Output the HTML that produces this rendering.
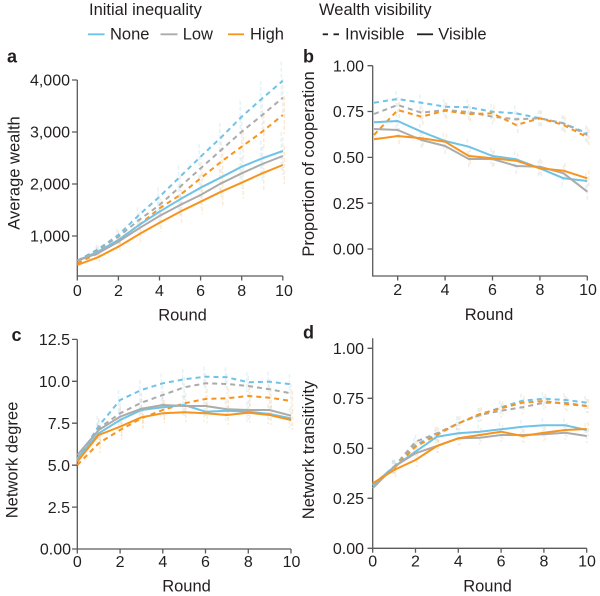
<!DOCTYPE html>
<html><head><meta charset="utf-8">
<style>
html,body{margin:0;padding:0;background:#fff;}
svg{display:block;}
text{font-family:"Liberation Sans",Arial,sans-serif;fill:#231f20;}
.t{font-size:16px;}
.l{font-size:16.5px;}
.p{font-size:18px;font-weight:bold;}
.ax{stroke:#5a5a5a;stroke-width:1.3;fill:none;}
.s{fill:none;stroke-width:2;stroke-linejoin:round;stroke-linecap:butt;}
.d{stroke-dasharray:5,4;}
.b{stroke:#6ec3e6;}
.g{stroke:#ababab;}
.o{stroke:#f7941d;}
</style></head>
<body>
<svg id="c" width="600" height="596" viewBox="0 0 600 596" xmlns="http://www.w3.org/2000/svg">
<!-- Legend -->
<text class="l" x="89" y="15">Initial inequality</text>
<text class="l" x="319" y="15">Wealth visibility</text>
<line x1="88" y1="34.3" x2="104.5" y2="34.3" stroke="#6ec3e6" stroke-width="1.8"/>
<text class="l" x="110" y="39.5">None</text>
<line x1="160.5" y1="34.3" x2="177.5" y2="34.3" stroke="#ababab" stroke-width="1.8"/>
<text class="l" x="182.7" y="39.5">Low</text>
<line x1="228" y1="34.3" x2="244" y2="34.3" stroke="#f7941d" stroke-width="1.8"/>
<text class="l" x="250" y="39.5">High</text>
<line x1="322.7" y1="34.3" x2="328" y2="34.3" stroke="#231f20" stroke-width="1.8"/>
<line x1="333.5" y1="34.3" x2="339" y2="34.3" stroke="#231f20" stroke-width="1.8"/>
<text class="l" x="345" y="39.5">Invisible</text>
<line x1="417" y1="34.3" x2="433" y2="34.3" stroke="#231f20" stroke-width="1.8"/>
<text class="l" x="438.3" y="39.5">Visible</text>

<!-- Panel labels -->
<text class="p" x="7" y="62.7">a</text>
<text class="p" x="303" y="62.7">b</text>
<text class="p" x="11.5" y="341">c</text>
<text class="p" x="303" y="338.5">d</text>

<!-- ===== Panel a ===== -->
<g id="pa">
<path class="ax" d="M77.3,80 V276 H282.8"/>
<path class="ax" d="M72,80H77.3M72,132H77.3M72,184H77.3M72,236H77.3"/>
<path class="ax" d="M77.3,276v4.5M118.4,276v4.5M159.5,276v4.5M200.6,276v4.5M241.7,276v4.5M282.8,276v4.5"/>
<g class="t" text-anchor="end">
<text x="70" y="85.7">4,000</text><text x="70" y="137.7">3,000</text><text x="70" y="189.7">2,000</text><text x="70" y="241.7">1,000</text>
</g>
<g class="t" text-anchor="middle">
<text x="77.3" y="296">0</text><text x="118.4" y="296">2</text><text x="159.5" y="296">4</text><text x="200.6" y="296">6</text><text x="241.7" y="296">8</text><text x="284" y="296">10</text>
</g>
<text class="l" x="182.5" y="320.7" text-anchor="middle">Round</text>
<text class="l" transform="translate(19.5,173) rotate(-90)" text-anchor="middle">Average wealth</text>
<polyline class="s d b eb" data-h="a" points="77.3,260.7 97.9,249.3 118.4,235 139,215 159.5,196.7 180.1,176.7 200.6,156.7 221.2,137.3 241.7,116.7 262.3,98.3 282.8,80.7"/>
<polyline class="s d g eb" data-h="a" points="77.3,260.7 97.9,250 118.4,236.7 139,220 159.5,205 180.1,186.7 200.6,168.3 221.2,150 241.7,131.7 262.3,115 282.8,97.7"/>
<polyline class="s d o eb" data-h="a" points="77.3,263.3 97.9,253.3 118.4,240 139,225 159.5,208.3 180.1,195 200.6,178.3 221.2,161.7 241.7,146.7 262.3,131.7 282.8,115"/>
<polyline class="s b eb" data-h="a" points="77.3,260.7 97.9,251.7 118.4,240 139,225 159.5,211.7 180.1,199.3 200.6,187.7 221.2,177.3 241.7,166.7 262.3,158.3 282.8,151"/>
<polyline class="s g eb" data-h="a" points="77.3,260.7 97.9,253.3 118.4,241.7 139,228.3 159.5,216 180.1,205 200.6,195 221.2,183.3 241.7,173.3 262.3,164 282.8,156"/>
<polyline class="s o eb" data-h="a" points="77.3,265 97.9,257.3 118.4,246.7 139,234.3 159.5,222.7 180.1,211.7 200.6,201.7 221.2,191.7 241.7,182.7 262.3,173.3 282.8,165"/>
</g>

<!-- ===== Panel b ===== -->
<g id="pb">
<path class="ax" d="M372.7,65.7 V276 H587.3"/>
<path class="ax" d="M367.5,65.7H372.7M367.5,111.5H372.7M367.5,157.4H372.7M367.5,203.2H372.7M367.5,249H372.7"/>
<path class="ax" d="M397.7,276v4.5M445.1,276v4.5M492.5,276v4.5M539.9,276v4.5M587.3,276v4.5"/>
<g class="t" text-anchor="end">
<text x="364" y="71.4">1.00</text><text x="364" y="117.2">0.75</text><text x="364" y="163.1">0.50</text><text x="364" y="208.9">0.25</text><text x="364" y="254.7">0.00</text>
</g>
<g class="t" text-anchor="middle">
<text x="397.7" y="295">2</text><text x="445.1" y="295">4</text><text x="492.5" y="295">6</text><text x="539.9" y="295">8</text><text x="588" y="295">10</text>
</g>
<text class="l" x="489" y="320" text-anchor="middle">Round</text>
<text class="l" transform="translate(314,164) rotate(-90)" text-anchor="middle">Proportion of cooperation</text>
<polyline class="s d b eb" data-h="b" points="374,102.7 397.7,99 421.4,102.7 445.1,106.7 468.8,107.3 492.5,111.7 516.2,113.3 539.9,118.3 563.6,123.3 587.3,133.3"/>
<polyline class="s d g eb" data-h="b" points="374,114 397.7,105 421.4,112.7 445.1,110 468.8,112 492.5,116.7 516.2,119.3 539.9,118.3 563.6,123.3 587.3,135"/>
<polyline class="s d o eb" data-h="b" points="374,135 397.7,110 421.4,116.7 445.1,110.7 468.8,114 492.5,113.3 516.2,125 539.9,118.3 563.6,125 587.3,137.3"/>
<polyline class="s b eb" data-h="b" points="374,122.3 397.7,121 421.4,131.7 445.1,141 468.8,146.7 492.5,156 516.2,159.3 539.9,168.3 563.6,178.3 587.3,181"/>
<polyline class="s g eb" data-h="b" points="374,129 397.7,130 421.4,140 445.1,146 468.8,159 492.5,159 516.2,166 539.9,166.7 563.6,173.3 587.3,191.7"/>
<polyline class="s o eb" data-h="b" points="374,139.3 397.7,136 421.4,138.3 445.1,141.7 468.8,156 492.5,158.3 516.2,160.7 539.9,168.3 563.6,170.7 587.3,178.3"/>
</g>

<!-- ===== Panel c ===== -->
<g id="pc">
<path class="ax" d="M77.3,339.4 V549 H291"/>
<path class="ax" d="M72,339.4H77.3M72,381.3H77.3M72,423.2H77.3M72,465.2H77.3M72,507.1H77.3M72,549H77.3"/>
<path class="ax" d="M77.3,549v4.5M120.1,549v4.5M162.8,549v4.5M205.5,549v4.5M248.3,549v4.5M291,549v4.5"/>
<g class="t" text-anchor="end">
<text x="70" y="345.1">12.5</text><text x="70" y="387">10.0</text><text x="70" y="428.9">7.5</text><text x="70" y="470.9">5.0</text><text x="70" y="512.8">2.5</text><text x="71" y="554.7">0.00</text>
</g>
<g class="t" text-anchor="middle">
<text x="77.3" y="567">0</text><text x="120.1" y="567">2</text><text x="162.8" y="567">4</text><text x="205.5" y="567">6</text><text x="248.3" y="567">8</text><text x="291.5" y="567">10</text>
</g>
<text class="l" x="186.5" y="591.7" text-anchor="middle">Round</text>
<text class="l" transform="translate(17.5,460) rotate(-90)" text-anchor="middle">Network degree</text>
<polyline class="s d b eb" data-h="c" points="77.3,460 98.7,426 120.1,400 141.4,390 162.8,383.3 184.2,379.3 205.5,376.7 226.9,377.3 248.3,382.3 269.6,381.7 291,384.3"/>
<polyline class="s d g eb" data-h="c" points="77.3,460 98.7,428.3 120.1,413.3 141.4,402.7 162.8,395 184.2,387.3 205.5,383.3 226.9,384 248.3,386 269.6,389.3 291,393.3"/>
<polyline class="s d o eb" data-h="c" points="77.3,465 98.7,443.3 120.1,430 141.4,418.3 162.8,410 184.2,403.3 205.5,399 226.9,398.3 248.3,396 269.6,397.7 291,401"/>
<polyline class="s b eb" data-h="c" points="77.3,458.3 98.7,433.3 120.1,420 141.4,410 162.8,407.3 184.2,405 205.5,411.7 226.9,410.7 248.3,411.7 269.6,414 291,418.3"/>
<polyline class="s g eb" data-h="c" points="77.3,455 98.7,430 120.1,416.7 141.4,408.7 162.8,405 184.2,406 205.5,406 226.9,409.3 248.3,410 269.6,410 291,415.7"/>
<polyline class="s o eb" data-h="c" points="77.3,461.7 98.7,435 120.1,426.7 141.4,417.3 162.8,413.3 184.2,412.3 205.5,413.3 226.9,415 248.3,412.7 269.6,415 291,420"/>
</g>

<!-- ===== Panel d ===== -->
<g id="pd">
<path class="ax" d="M372.7,338.3 V548.3 H586.7"/>
<path class="ax" d="M367.5,348.3H372.7M367.5,398.3H372.7M367.5,448.3H372.7M367.5,498.3H372.7M367.5,548.3H372.7"/>
<path class="ax" d="M372.7,548.3v4.5M415.5,548.3v4.5M458.3,548.3v4.5M501.1,548.3v4.5M543.9,548.3v4.5M586.7,548.3v4.5"/>
<g class="t" text-anchor="end">
<text x="364" y="354">1.00</text><text x="364" y="404">0.75</text><text x="364" y="454">0.50</text><text x="364" y="504">0.25</text><text x="364" y="554">0.00</text>
</g>
<g class="t" text-anchor="middle">
<text x="372.7" y="566.7">0</text><text x="415.5" y="566.7">2</text><text x="458.3" y="566.7">4</text><text x="501.1" y="566.7">6</text><text x="543.9" y="566.7">8</text><text x="587" y="566.7">10</text>
</g>
<text class="l" x="487.5" y="591.7" text-anchor="middle">Round</text>
<text class="l" transform="translate(314,450) rotate(-90)" text-anchor="middle">Network transitivity</text>
<polyline class="s d b eb" data-h="d" points="372.7,485 394.1,466.7 415.5,445 436.9,434 458.3,423.3 479.7,415 501.1,407.3 522.5,400.7 543.9,398.7 565.3,400 586.7,402.7"/>
<polyline class="s d g eb" data-h="d" points="372.7,485 394.1,466.7 415.5,441.7 436.9,433.3 458.3,423.3 479.7,415 501.1,410.7 522.5,407.3 543.9,402.7 565.3,402.7 586.7,406"/>
<polyline class="s d o eb" data-h="d" points="372.7,485 394.1,468.3 415.5,446.7 436.9,435 458.3,423.3 479.7,414 501.1,408.3 522.5,402.7 543.9,401 565.3,404 586.7,406"/>
<polyline class="s b eb" data-h="d" points="372.7,485 394.1,466.7 415.5,451.7 436.9,436.7 458.3,433.3 479.7,431.7 501.1,429.3 522.5,426.7 543.9,425.3 565.3,425.3 586.7,430"/>
<polyline class="s g eb" data-h="d" points="372.7,488.3 394.1,466.7 415.5,453.3 436.9,446 458.3,438.3 479.7,437.7 501.1,435 522.5,435 543.9,434.3 565.3,432.7 586.7,436"/>
<polyline class="s o eb" data-h="d" points="372.7,483.3 394.1,470 415.5,460 436.9,446 458.3,438.3 479.7,435 501.1,431.7 522.5,436 543.9,432.7 565.3,430 586.7,429"/>
</g>
</svg>
<script>
(function(){
  var NS="http://www.w3.org/2000/svg";
  var cols={b:"#6ec3e6",g:"#ababab",o:"#f7941d"};
  var lines=document.querySelectorAll("polyline.eb");
  for(var i=0;i<lines.length;i++){
    var pl=lines[i], cls=" "+pl.getAttribute("class")+" ";
    var c=cls.indexOf(" b ")>=0?"b":(cls.indexOf(" g ")>=0?"g":"o");
    var off=c==="b"?-1.5:(c==="g"?0:1.5);
    var h=pl.getAttribute("data-h");
    var pts=pl.getAttribute("points").trim().split(/\s+/);
    var g=document.createElementNS(NS,"g");
    for(var k=1;k<pts.length;k++){
      var xy=pts[k].split(","),x=+xy[0]+off,y=+xy[1];
      var len=h==="a"?(3+1.6*k):(h==="b"?8:(h==="c"?10:7));
      var ln=document.createElementNS(NS,"line");
      ln.setAttribute("x1",x);ln.setAttribute("x2",x);
      ln.setAttribute("y1",y-len);ln.setAttribute("y2",y+len);
      ln.setAttribute("stroke",cols[c]);ln.setAttribute("stroke-width","1.5");
      ln.setAttribute("stroke-opacity","0.2");
      ln.setAttribute("stroke-dasharray","4,2");
      g.appendChild(ln);
    }
    pl.parentNode.insertBefore(g,pl.parentNode.querySelector("polyline"));
  }
})();
</script>
</body></html>
